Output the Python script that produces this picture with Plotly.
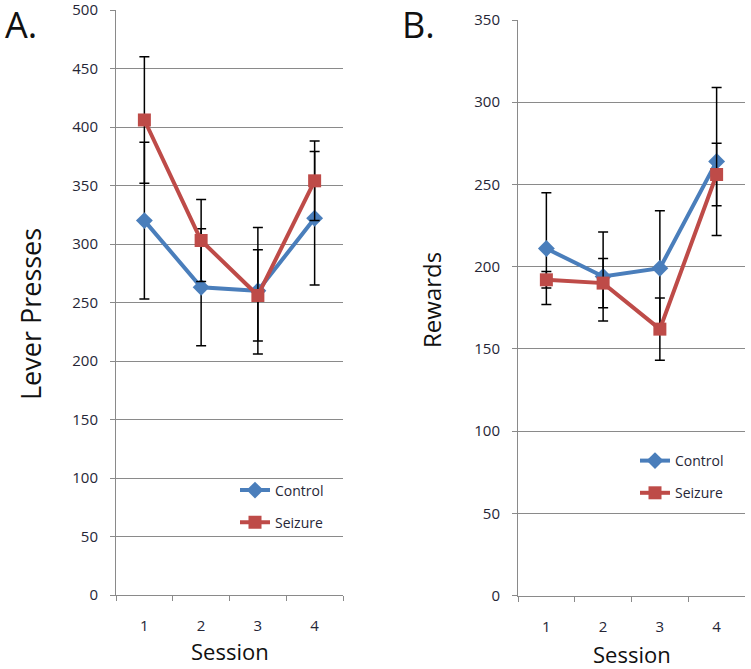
import plotly.graph_objects as go

W, H = 751, 669

sessions = ["1", "2", "3", "4"]

# Panel A: lever presses (mean, error)
presses_control = [320, 263, 260, 322]
presses_control_err = [67, 50, 54, 57]
presses_seizure = [406, 303, 256, 354]
presses_seizure_err = [54, 35, 39, 34]

# Panel B: rewards
rewards_control = [211, 194, 199, 264]
rewards_control_err = [34, 27, 35, 45]
rewards_seizure = [192, 190, 162, 256]
rewards_seizure_err = [5, 15, 19, 19]

BLUE = "#4A7EBB"
RED = "#BE4B48"
GRID = "#8a8a8a"
TXT = "#262636"
FONT = "Open Sans"


def px_x(x):
    return x / W


def px_y(y):
    return 1 - y / H


fig = go.Figure()


def add_series(xaxis, yaxis, y, err, name, color, symbol, legend, group):
    fig.add_trace(go.Scatter(
        x=sessions, y=y, name=name, xaxis=xaxis, yaxis=yaxis,
        mode="lines+markers",
        line=dict(color=color, width=4),
        marker=dict(symbol=symbol, size=13, color=color),
        error_y=dict(type="data", array=err, visible=True,
                     color="black", thickness=1.5, width=5),
        legend=legend, legendgroup=group,
    ))


add_series("x", "y", presses_control, presses_control_err, "Control", BLUE, "diamond", "legend", "ac")
add_series("x", "y", presses_seizure, presses_seizure_err, "Seizure", RED, "square", "legend", "as")
add_series("x2", "y2", rewards_control, rewards_control_err, "Control", BLUE, "diamond", "legend2", "bc")
add_series("x2", "y2", rewards_seizure, rewards_seizure_err, "Seizure", RED, "square", "legend2", "bs")

xcommon = dict(type="category", range=[-0.5, 3.5], tickson="boundaries",
               ticks="outside", ticklen=5, tickcolor=GRID, ticklabelstandoff=17,
               showline=True, linecolor=GRID, linewidth=1, showgrid=False,
               tickfont=dict(size=15, color=TXT, family=FONT), zeroline=False)
ycommon = dict(dtick=50, ticks="outside", ticklen=5, tickcolor=GRID, ticklabelstandoff=9,
               ticklabeloverflow="allow",
               showline=True, linecolor=GRID, linewidth=1,
               showgrid=True, gridcolor=GRID, gridwidth=1, zeroline=False,
               tickfont=dict(size=15, color=TXT, family=FONT))

legend_common = dict(bgcolor="rgba(0,0,0,0)", font=dict(size=14, color=TXT, family=FONT),
                     itemwidth=30, tracegroupgap=11, xanchor="left", yanchor="middle")

fig.update_layout(
    width=W, height=H,
    margin=dict(l=0, r=0, t=0, b=0, autoexpand=False),
    paper_bgcolor="white", plot_bgcolor="white",
    font=dict(family=FONT, color=TXT),
    xaxis=dict(domain=[px_x(116), px_x(343)], anchor="y", **xcommon),
    yaxis=dict(domain=[px_y(595), px_y(10)], anchor="x", range=[0, 500], **ycommon),
    xaxis2=dict(domain=[px_x(518), px_x(745)], anchor="y2", **xcommon),
    yaxis2=dict(domain=[px_y(595.5), px_y(20)], anchor="x2", range=[0, 350], **ycommon),
    legend=dict(x=px_x(235), y=px_y(506.5), **legend_common),
    legend2=dict(x=px_x(635), y=px_y(477), **legend_common),
)

annotations = [
    dict(text="A.", x=px_x(3), y=px_y(24.5), xanchor="left", font_size=36),
    dict(text="B.", x=px_x(400), y=px_y(24.5), xanchor="left", font_size=36),
    dict(text="Lever Presses", x=px_x(31), y=px_y(314), textangle=-90, font_size=27),
    dict(text="Rewards", x=px_x(431), y=px_y(300), textangle=-90, font_size=24),
    dict(text="Session", x=px_x(230), y=px_y(651), font_size=22),
    dict(text="Session", x=px_x(632), y=px_y(654), font_size=22),
]
for a in annotations:
    a.setdefault("xanchor", "center")
    fig.add_annotation(xref="paper", yref="paper", showarrow=False,
                       yanchor="middle", font_family=FONT, font_color="#111", **a)

# the default page has an 8px body margin; drop it so the figure sits at 0,0
fig.write_html("out.html", config={"displayModeBar": False},
               post_script="document.body.style.margin = '0';")
